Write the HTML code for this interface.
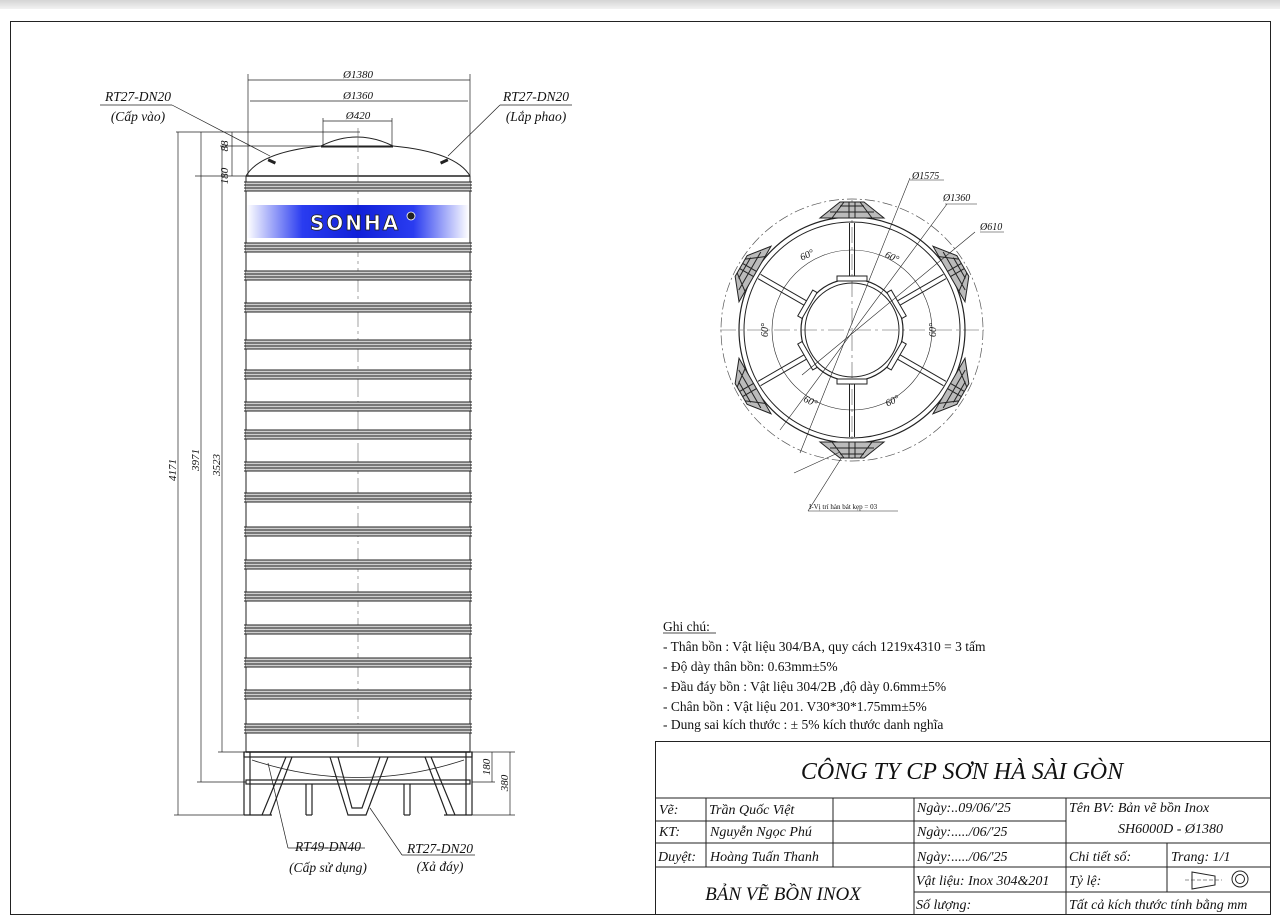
<!DOCTYPE html>
<html><head><meta charset="utf-8"><style>
html,body{margin:0;padding:0;background:#fff;width:1280px;height:924px;overflow:hidden}
svg{display:block}
.it{font-family:"Liberation Serif",serif;font-style:italic;fill:#111}
.rm{font-family:"Liberation Serif",serif;fill:#111}
</style></head><body>
<svg width="1280" height="924" viewBox="0 0 1280 924" xmlns="http://www.w3.org/2000/svg">
<defs>
<linearGradient id="top" x1="0" y1="0" x2="0" y2="1"><stop offset="0" stop-color="#d4d4d4"/><stop offset="1" stop-color="#f2f2f2"/></linearGradient>
<linearGradient id="logo" x1="0" y1="0" x2="1" y2="0"><stop offset="0" stop-color="#fff"/><stop offset="0.25" stop-color="#2a3cf0"/><stop offset="0.5" stop-color="#1020d8"/><stop offset="0.75" stop-color="#2a3cf0"/><stop offset="1" stop-color="#fff"/></linearGradient>
<g id="gr">
<rect x="246" y="0" width="224" height="9" fill="#cfcfcf"/>
<g stroke="#222" stroke-width="0.9"><line x1="244" y1="0" x2="472" y2="0"/><line x1="244" y1="3" x2="472" y2="3"/><line x1="244" y1="6" x2="472" y2="6"/><line x1="244" y1="9" x2="472" y2="9"/></g>
</g>
<g id="br" fill="none" stroke="#222" stroke-width="1">
<polygon points="-12,-128 12,-128 32,-112 -32,-112" fill="#bbb"/>
<polyline points="-8,-128 -20,-112"/><polyline points="8,-128 20,-112"/>
<line x1="-12" y1="-124" x2="12" y2="-124"/><line x1="-22" y1="-118" x2="22" y2="-118"/>
<line x1="-3" y1="-128" x2="-3" y2="-112"/><line x1="3" y1="-128" x2="3" y2="-112"/>
<line x1="-2.5" y1="-107" x2="-2.5" y2="-50"/><line x1="2.5" y1="-107" x2="2.5" y2="-50"/>
<rect x="-15" y="-54" width="30" height="5" fill="#fff"/>
</g>
</defs>
<rect x="0" y="0" width="1280" height="9" fill="url(#top)"/>
<rect x="10.5" y="21.5" width="1260" height="893" fill="none" stroke="#222" stroke-width="1"/>

<g fill="none" stroke="#222" stroke-width="1">
<path d="M246,176 Q260,152 321,146 L393,146 Q456,152 470,176"/>
<path d="M321,146 Q357,128 393,146"/>
<line x1="321" y1="147" x2="393" y2="147"/>
<line x1="246" y1="176" x2="470" y2="176" stroke-width="1.6"/>
<line x1="246" y1="176" x2="246" y2="752"/><line x1="470" y1="176" x2="470" y2="752"/>
<line x1="246" y1="752" x2="470" y2="752" stroke-width="1.6"/>
<line x1="358" y1="128" x2="358" y2="752" stroke="#666" stroke-width="0.6" stroke-dasharray="24,4,3,4"/>
</g>
<rect x="268" y="160" width="8" height="3" fill="#222" transform="rotate(25 272 161)"/>
<rect x="440" y="160" width="8" height="3" fill="#222" transform="rotate(-25 444 161)"/>
<use href="#gr" y="182"/>
<rect x="247" y="205" width="222" height="33" fill="url(#logo)"/>
<text x="355" y="230" text-anchor="middle" font-family="DejaVu Sans,sans-serif" font-weight="bold" font-size="20" letter-spacing="2" fill="#fff" stroke="#222" stroke-width="0.8">SONHA</text>
<circle cx="411" cy="216" r="4" fill="#222" stroke="#fff" stroke-width="0.8"/>
<use href="#gr" y="243"/><use href="#gr" y="271"/><use href="#gr" y="303"/><use href="#gr" y="340"/>
<use href="#gr" y="370"/><use href="#gr" y="402"/><use href="#gr" y="430"/><use href="#gr" y="462"/>
<use href="#gr" y="493"/><use href="#gr" y="527"/><use href="#gr" y="560"/><use href="#gr" y="592"/>
<use href="#gr" y="625"/><use href="#gr" y="658"/><use href="#gr" y="690"/><use href="#gr" y="724"/>

<g fill="none" stroke="#222" stroke-width="1.2">
<rect x="244" y="752" width="228" height="5"/>
<path d="M252,760 Q358,795 464,760" stroke-width="0.8"/>
<rect x="246" y="780" width="224" height="4"/>
<line x1="244" y1="752" x2="244" y2="815"/><line x1="250" y1="752" x2="250" y2="815"/>
<line x1="466" y1="752" x2="466" y2="815"/><line x1="472" y1="752" x2="472" y2="815"/>
<path d="M262,815 L286,757 M270,815 L292,757"/>
<path d="M455,815 L431,757 M447,815 L425,757"/>
<path d="M330,757 L348,815 L366,815 L388,757 M338,757 L352,808 L362,808 L380,757"/>
<line x1="244" y1="815" x2="272" y2="815"/><line x1="444" y1="815" x2="472" y2="815"/>
<line x1="306" y1="784" x2="306" y2="815"/><line x1="312" y1="784" x2="312" y2="815"/>
<line x1="404" y1="784" x2="404" y2="815"/><line x1="410" y1="784" x2="410" y2="815"/>
<line x1="306" y1="815" x2="312" y2="815"/><line x1="404" y1="815" x2="410" y2="815"/>
</g>

<g fill="none" stroke="#222" stroke-width="0.7">
<line x1="248" y1="80" x2="470" y2="80"/><line x1="248" y1="74" x2="248" y2="176"/><line x1="470" y1="74" x2="470" y2="176"/>
<line x1="250" y1="101" x2="468" y2="101"/>
<line x1="323" y1="121" x2="392" y2="121"/><line x1="323" y1="118" x2="323" y2="146"/><line x1="392" y1="118" x2="392" y2="146"/>
<line x1="176" y1="132" x2="360" y2="132"/><line x1="220" y1="146" x2="320" y2="146"/><line x1="195" y1="176" x2="246" y2="176"/>
<line x1="178" y1="132" x2="178" y2="815"/><line x1="201" y1="132" x2="201" y2="782"/><line x1="222" y1="146" x2="222" y2="752"/><line x1="232" y1="132" x2="232" y2="176"/>
<line x1="174" y1="815" x2="244" y2="815"/><line x1="197" y1="782" x2="246" y2="782"/><line x1="218" y1="752" x2="246" y2="752"/>
<line x1="472" y1="752" x2="515" y2="752"/><line x1="472" y1="782" x2="495" y2="782"/><line x1="472" y1="815" x2="515" y2="815"/>
<line x1="492" y1="752" x2="492" y2="782"/><line x1="510" y1="752" x2="510" y2="815"/>
<line x1="100" y1="105" x2="172" y2="105"/><line x1="172" y1="105" x2="270" y2="156"/>
<line x1="500" y1="105" x2="572" y2="105"/><line x1="500" y1="105" x2="448" y2="156"/>
<line x1="288" y1="848" x2="365" y2="848"/><line x1="288" y1="848" x2="268" y2="763"/>
<line x1="402" y1="855" x2="475" y2="855"/><line x1="402" y1="855" x2="370" y2="808"/>
</g>
<g class="it" font-size="11" text-anchor="middle">
<text x="358" y="78">Ø1380</text><text x="358" y="99">Ø1360</text><text x="358" y="119">Ø420</text>
<text transform="translate(228,176) rotate(-90)">180</text><text transform="translate(228,146) rotate(-90)">88</text>
<text transform="translate(176,470) rotate(-90)">4171</text><text transform="translate(199,460) rotate(-90)">3971</text><text transform="translate(220,465) rotate(-90)">3523</text>
<text transform="translate(490,767) rotate(-90)">180</text><text transform="translate(508,783) rotate(-90)">380</text>
</g>
<g class="it" font-size="13.5" text-anchor="middle">
<text x="138" y="101">RT27-DN20</text><text x="138" y="121">(Cấp vào)</text>
<text x="536" y="101">RT27-DN20</text><text x="536" y="121">(Lắp phao)</text>
<text x="328" y="851">RT49-DN40</text><text x="328" y="872">(Cấp sử dụng)</text>
<text x="440" y="853">RT27-DN20</text><text x="440" y="871">(Xả đáy)</text>
</g>

<g transform="translate(852,330)" fill="none" stroke="#222">
<circle r="131" stroke="#555" stroke-width="0.7" stroke-dasharray="10,3,2,3"/>
<line x1="-132" y1="0" x2="132" y2="0" stroke="#555" stroke-width="0.6" stroke-dasharray="16,4,3,4"/>
<line x1="0" y1="-130" x2="0" y2="130" stroke="#555" stroke-width="0.6" stroke-dasharray="16,4,3,4"/>
<circle r="113" stroke-width="1.2"/><circle r="108" stroke-width="1"/>
<circle r="80" stroke-width="0.6"/>
<circle r="51" stroke-width="1.2"/><circle r="47" stroke-width="1"/>
<use href="#br"/><use href="#br" transform="rotate(60)"/><use href="#br" transform="rotate(120)"/>
<use href="#br" transform="rotate(180)"/><use href="#br" transform="rotate(240)"/><use href="#br" transform="rotate(300)"/>
<line x1="-52" y1="123" x2="58" y2="-152" stroke-width="0.6"/>
<line x1="-72" y1="100" x2="95" y2="-126" stroke-width="0.6"/>
<line x1="-50" y1="45" x2="123" y2="-98" stroke-width="0.6"/>
<line x1="-58" y1="143" x2="-12" y2="122" stroke-width="0.6"/>
</g>
<g fill="none" stroke="#222" stroke-width="0.6">
<line x1="910" y1="180" x2="944" y2="180"/><line x1="945" y1="204" x2="977" y2="204"/><line x1="980" y1="232" x2="1004" y2="232"/>
<line x1="808" y1="511" x2="898" y2="511"/><line x1="808" y1="511" x2="842" y2="457"/>
</g>
<g class="it" font-size="10">
<text x="912" y="179">Ø1575</text><text x="943" y="201">Ø1360</text><text x="980" y="230">Ø610</text>
<text x="800" y="258" transform="rotate(-25 807 255)">60°</text><text x="885" y="260" transform="rotate(25 892 257)">60°</text>
<text transform="translate(768,337) rotate(-90)">60°</text><text transform="translate(936,337) rotate(-90)">60°</text>
<text x="804" y="404" transform="rotate(25 810 400)">60°</text><text x="885" y="404" transform="rotate(-25 892 400)">60°</text>
</g>
<text class="rm" x="809" y="509" font-size="7">I-Vị trí hàn bát kẹp = 03</text>

<g class="rm" font-size="13.5">
<text x="663" y="631">Ghi chú:</text>
<line x1="663" y1="633" x2="716" y2="633" stroke="#111" stroke-width="0.7"/>
<text x="663" y="651">- Thân bồn : Vật liệu  304/BA, quy cách 1219x4310 = 3 tấm</text>
<text x="663" y="671">- Độ dày thân bồn: 0.63mm±5%</text>
<text x="663" y="691">- Đầu đáy bồn : Vật liệu 304/2B ,độ dày 0.6mm±5%</text>
<text x="663" y="711">- Chân bồn : Vật liệu 201.  V30*30*1.75mm±5%</text>
<text x="663" y="729">- Dung sai kích thước : ± 5% kích thước danh nghĩa</text>
</g>

<g fill="none" stroke="#222" stroke-width="1">
<rect x="655.5" y="741.5" width="615" height="173"/>
<line x1="655" y1="798" x2="1271" y2="798"/>
<line x1="655" y1="821" x2="1066" y2="821"/>
<line x1="655" y1="843" x2="1271" y2="843"/>
<line x1="655" y1="867" x2="1271" y2="867"/>
<line x1="914" y1="892" x2="1271" y2="892"/>
<line x1="706" y1="798" x2="706" y2="867"/>
<line x1="833" y1="798" x2="833" y2="867"/>
<line x1="914" y1="798" x2="914" y2="914"/>
<line x1="1066" y1="798" x2="1066" y2="914"/>
<line x1="1167" y1="843" x2="1167" y2="892"/>
<path d="M1192,872 L1215,876 L1215,885 L1192,889 Z"/><line x1="1185" y1="880" x2="1222" y2="880" stroke-width="0.5" stroke-dasharray="4,2"/>
<circle cx="1240" cy="879" r="8"/><circle cx="1240" cy="879" r="4.5"/>
</g>
<g class="it">
<text x="962" y="779" font-size="24" text-anchor="middle">CÔNG TY CP SƠN HÀ SÀI GÒN</text>
<g font-size="14">
<text x="659" y="814">Vẽ:</text><text x="709" y="814">Trần Quốc Việt</text><text x="917" y="812">Ngày:..09/06/'25</text>
<text x="659" y="836">KT:</text><text x="710" y="836">Nguyễn Ngọc Phú</text><text x="917" y="836">Ngày:...../06/'25</text>
<text x="658" y="861">Duyệt:</text><text x="710" y="861">Hoàng Tuấn Thanh</text><text x="917" y="861">Ngày:...../06/'25</text>
<text x="1069" y="812">Tên BV: Bản vẽ bồn Inox</text><text x="1118" y="833">SH6000D - Ø1380</text>
<text x="1069" y="861">Chi tiết số:</text><text x="1171" y="861">Trang: 1/1</text>
<text x="916" y="885">Vật liệu: Inox 304&amp;201</text><text x="1069" y="885">Tỷ lệ:</text>
<text x="916" y="909">Số lượng:</text><text x="1069" y="909">Tất cả kích thước tính bằng mm</text>
</g>
<text x="783" y="900" font-size="19" text-anchor="middle">BẢN VẼ BỒN INOX</text>
</g>
</svg>
</body></html>
